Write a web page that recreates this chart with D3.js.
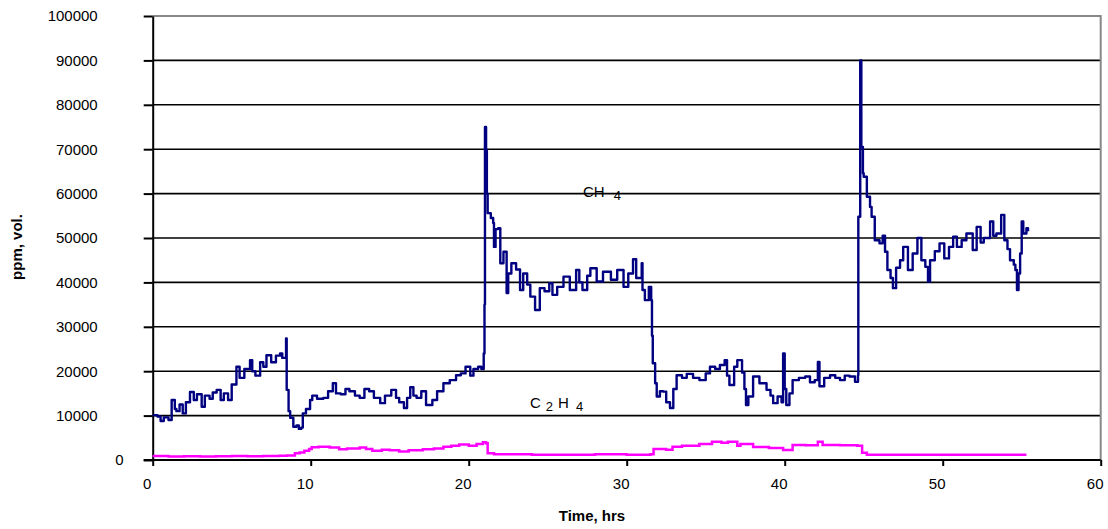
<!DOCTYPE html>
<html>
  <head>
    <meta charset="UTF-8">
    <title>CH4 / C2H4 vs time</title>
    <style>
      body {margin: 0; background: #fff;}
      svg {display: block; font-family: "Liberation Sans", Arial, sans-serif;}
      .tick-label {font-size: 15px; fill: #000;}
      .title {font-size: 15px; font-weight: bold; text-anchor: middle;}
      .note {font-size: 15px;}
    </style>
  </head>
  <body>
    <div id="chart"></div>
    <script src="https://d3js.org/d3.v7.min.js"></script>
    <script>

// methane, ppm vol.
const ch4Hours = [0.0, 0.3, 0.5, 0.7, 1.0, 1.2, 1.4, 1.5, 1.7, 1.9, 2.1, 2.36, 2.6, 2.8, 3.1, 3.3, 3.6, 3.8, 4.05, 4.3,
  4.5, 4.77, 5.0, 5.3, 5.5, 5.8, 6.16, 6.3, 6.5, 6.8, 7.0, 7.2, 7.5, 7.8, 8.06, 8.2, 8.44, 8.48, 8.6, 8.7,
  8.9, 9.1, 9.25, 9.4, 9.5, 9.7, 9.96, 10.1, 10.4, 10.8, 11.1, 11.4, 11.6, 11.9, 12.2, 12.45, 12.8, 13.1, 13.4, 13.7,
  14.0, 14.4, 14.7, 15.1, 15.4, 15.6, 15.9, 16.1, 16.3, 16.5, 16.7, 17.0, 17.3, 17.7, 18.0, 18.4, 18.8, 19.2, 19.5, 19.8,
  20.1, 20.3, 20.6, 20.8, 20.95, 21.0, 21.03, 21.1, 21.15, 21.2, 21.4, 21.55, 21.6, 21.7, 21.86, 22.0, 22.2, 22.4, 22.5, 22.7,
  23.0, 23.25, 23.45, 23.7, 23.9, 24.2, 24.5, 24.8, 25.1, 25.3, 25.6, 26.0, 26.4, 26.8, 27.0, 27.2, 27.5, 27.7, 28.1, 28.5,
  29.0, 29.4, 29.8, 30.1, 30.4, 30.6, 30.95, 31.0, 31.15, 31.4, 31.55, 31.6, 31.65, 31.8, 31.9, 32.1, 32.3, 32.5, 32.74, 32.95,
  33.16, 33.5, 33.8, 34.2, 34.6, 35.0, 35.27, 35.6, 35.9, 36.2, 36.35, 36.5, 36.8, 37.0, 37.3, 37.45, 37.55, 37.7, 38.0, 38.4,
  38.85, 39.1, 39.27, 39.55, 39.8, 39.9, 40.0, 40.1, 40.3, 40.5, 40.9, 41.3, 41.6, 41.9, 42.1, 42.2, 42.5, 42.87, 43.2, 43.5,
  43.8, 44.1, 44.45, 44.64, 44.66, 44.78, 44.85, 44.95, 45.0, 45.2, 45.4, 45.5, 45.7, 46.0, 46.2, 46.35, 46.5, 46.7, 46.85, 47.05,
  47.3, 47.5, 47.8, 48.1, 48.4, 48.65, 48.9, 49.07, 49.2, 49.5, 49.8, 50.1, 50.4, 50.66, 50.9, 51.2, 51.5, 51.9, 52.15, 52.4,
  52.6, 53.0, 53.2, 53.4, 53.7, 53.9, 54.1, 54.26, 54.5, 54.6, 54.7, 54.8, 54.9, 55.0, 55.1, 55.3, 55.4];
const ch4Values = [10100, 9800, 8800, 9600, 9000, 13500, 11500, 11000, 12500, 10500, 13000, 15300, 13500, 14800, 12000, 14500, 13800, 15200, 15800, 13500,
  15000, 13500, 17000, 21000, 18500, 20500, 22500, 20000, 19000, 22000, 21000, 23600, 22000, 23500, 24000, 23000, 27400, 15800, 11000, 9500,
  7500, 7800, 7000, 7300, 10500, 11500, 13500, 14500, 13800, 14000, 15500, 17300, 15000, 14800, 16000, 15500, 14500, 14000, 16000, 15500,
  14000, 12800, 14500, 15800, 14000, 13000, 11700, 14000, 16400, 14500, 14000, 15500, 12400, 13500, 15500, 17300, 18000, 19100, 19500, 21000,
  19000, 20500, 21000, 20500, 24000, 35000, 75000, 69800, 60000, 55600, 54500, 53400, 48000, 52000, 52200, 44300, 46900, 37600, 42000, 44300,
  42900, 38300, 42000, 39500, 36800, 33800, 38700, 38000, 39800, 37200, 39000, 41300, 38300, 42800, 40000, 38300, 41500, 43200, 40200, 42400,
  40600, 42800, 39000, 42000, 45200, 41000, 44300, 38300, 36000, 39000, 36000, 28000, 21800, 17300, 14300, 15500, 15400, 13000, 11700, 16000,
  19100, 18500, 19400, 18500, 18000, 19500, 21000, 20500, 21400, 22500, 19000, 16900, 21000, 22500, 19700, 16000, 12400, 14300, 18800, 17300,
  15800, 14500, 12800, 14300, 13000, 24000, 16000, 12400, 15000, 18000, 18500, 18800, 17500, 18000, 22100, 16600, 18500, 19100, 18500, 18000,
  19000, 18800, 17600, 19100, 54800, 90000, 70500, 64600, 63800, 59300, 57000, 54800, 49500, 48800, 50500, 46900, 42800, 41000, 38700, 43300,
  45000, 48000, 42800, 46500, 50000, 45000, 43500, 40200, 45000, 47000, 48800, 45400, 48000, 50300, 48000, 49500, 51000, 47300, 52500, 49000,
  50000, 53700, 50500, 51000, 55200, 49500, 47500, 45000, 44000, 42800, 38300, 42000, 46500, 53700, 51000, 52200, 51500];

// ethylene, ppm vol.
const c2h4Hours = [0, 1, 2, 3, 4, 5, 6, 7, 8, 8.5, 9.0, 9.3, 9.6, 9.9, 10.06, 10.5, 10.8, 11.2, 11.8, 12.3,
  13.1, 13.5, 13.9, 14.5, 15.0, 15.6, 16.2, 17.1, 17.8, 18.4, 18.9, 19.4, 20.0, 20.5, 20.9, 21.1, 21.2, 21.6, 22.5, 24,
  26, 28, 30, 31.5, 31.7, 32.5, 32.9, 33.5, 34.6, 35.4, 36.0, 36.4, 37.0, 37.2, 38.0, 39.0, 39.9, 40.5, 41.3, 42.1,
  42.4, 43.5, 44.6, 44.9, 45.2, 50, 55.3];
const c2h4Values = [900, 800, 850, 800, 850, 900, 850, 900, 950, 1000, 1500, 1700, 2100, 2500, 2850, 3000, 3000, 2800, 2400, 2600,
  2800, 2500, 2100, 2300, 2200, 1900, 2200, 2400, 2600, 3000, 3200, 3500, 3200, 3600, 4000, 3800, 1500, 1300, 1300, 1200,
  1200, 1300, 1200, 1300, 2500, 2300, 3000, 3200, 3600, 4100, 3900, 4100, 3200, 3600, 2900, 2700, 2250, 3400, 3300, 4100,
  3400, 3300, 3200, 1650, 1200, 1200, 1200];

const xTicks = [0, 10, 20, 30, 40, 50, 60];
const yTicks = [0, 10000, 20000, 30000, 40000, 50000, 60000, 70000, 80000, 90000, 100000];

const width = 1108, height = 529;
const plotLeft = 152.7, plotRight = 1100.7, plotTop = 16, plotBottom = 460;

const svg = d3.select("#chart").append("svg")
  .attr("width", width)
  .attr("height", height);

const x = d3.scaleLinear().domain([0, 60]).range([plotLeft, plotRight]);
const y = d3.scaleLinear().domain([0, 100000]).range([plotBottom, plotTop]);

// horizontal grid
svg.append("g")
  .selectAll("line")
  .data(yTicks.filter(d => d > 0 && d < 100000))
  .join("line")
  .attr("x1", plotLeft).attr("x2", plotRight)
  .attr("y1", d => y(d)).attr("y2", d => y(d))
  .attr("stroke", "#000")
  .attr("stroke-width", 1.6);

// plot frame top / right (grey)
svg.append("path")
  .attr("d", `M${plotLeft},${y(100000)}H${plotRight}V${plotBottom}`)
  .attr("fill", "none")
  .attr("stroke", "#888")
  .attr("stroke-width", 2);

// y axis
const yAxis = svg.append("g")
  .attr("transform", `translate(${plotLeft},0)`)
  .call(d3.axisLeft(y).tickValues(yTicks).tickSize(9).tickSizeOuter(0).tickFormat(d3.format("d")));
yAxis.select(".domain").attr("stroke", "#000").attr("stroke-width", 2);
yAxis.selectAll(".tick line").attr("stroke", "#000").attr("stroke-width", 2);
yAxis.selectAll(".tick text")
  .attr("class", "tick-label")
  .attr("font-family", null)
  .attr("x", d => d === 0 ? -29 : -55)
  .attr("font-size", null);

// x axis
const xAxis = svg.append("g")
  .attr("transform", `translate(0,${plotBottom})`)
  .call(d3.axisBottom(x).tickValues(xTicks).tickSize(6).tickSizeOuter(0));
xAxis.select(".domain").attr("stroke", "#000").attr("stroke-width", 2)
  .attr("d", `M${plotLeft - 9},0H${plotRight}`);
xAxis.selectAll(".tick line").attr("stroke", "#000").attr("stroke-width", 2);
xAxis.selectAll(".tick text")
  .attr("class", "tick-label")
  .attr("font-size", null)
  .attr("font-family", null)
  .attr("dx", -6)
  .attr("y", 18);

// series (logged readings, drawn as steps)
const line = d3.line().curve(d3.curveStepAfter).x(d => x(d[0])).y(d => y(d[1]));

svg.append("path")
  .datum(c2h4Hours.map((h, i) => [h, c2h4Values[i]]))
  .attr("d", line)
  .attr("fill", "none")
  .attr("stroke", "#ff00ff")
  .attr("stroke-width", 2.5);

svg.append("path")
  .datum(ch4Hours.map((h, i) => [h, ch4Values[i]]))
  .attr("d", line)
  .attr("fill", "none")
  .attr("stroke", "#000080")
  .attr("stroke-width", 2.4)
  .attr("stroke-linejoin", "round");

// series labels
const ch4Label = svg.append("text").attr("class", "note").attr("x", 583).attr("y", 197);
ch4Label.append("tspan").text("CH");
ch4Label.append("tspan").attr("dx", 9).attr("dy", 3).attr("font-size", 13).text("4");

const c2h4Label = svg.append("text").attr("class", "note").attr("x", 530).attr("y", 408);
c2h4Label.append("tspan").text("C");
c2h4Label.append("tspan").attr("dx", 5).attr("dy", 3).attr("font-size", 13).text("2");
c2h4Label.append("tspan").attr("dx", 5).attr("dy", -3).text("H");
c2h4Label.append("tspan").attr("dx", 7).attr("dy", 3).attr("font-size", 13).text("4");

// axis titles
svg.append("text")
  .attr("class", "title")
  .attr("x", 592)
  .attr("y", 521)
  .text("Time, hrs");

svg.append("text")
  .attr("class", "title")
  .attr("transform", "translate(22,247) rotate(-90)")
  .text("ppm, vol.");

    </script>
  </body>
</html>
